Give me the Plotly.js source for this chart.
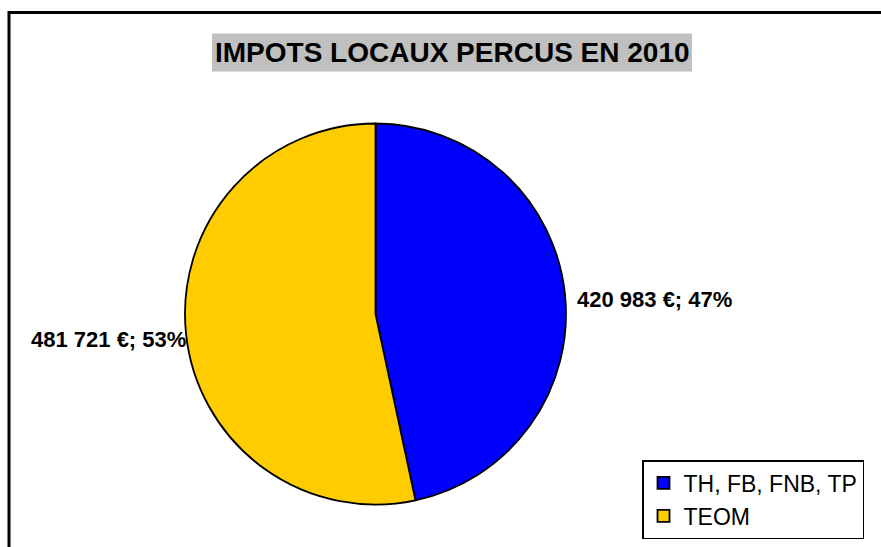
<!DOCTYPE html>
<html>
<head>
<meta charset="utf-8">
<script src="https://cdn.plot.ly/plotly-3.0.1.min.js"></script>
<style>
  html, body { margin: 0; padding: 0; background: #ffffff; }
  #chart { width: 881px; height: 547px; }
</style>
</head>
<body>
<div id="chart"></div>
<script>
// Impôts locaux perçus en 2010
const categories = ['TH, FB, FNB, TP', 'TEOM'];
const amounts = [420983, 481721];
const sliceColors = ['#0000FF', '#FFCC00'];
const chartTitle = 'IMPOTS LOCAUX PERCUS EN 2010';

const W = 881, H = 547;
const px = x => x / W;
const py = y => 1 - y / H;

// 420983 -> "420 983 €"
function euros(v) {
    return String(v).replace(/\B(?=(\d{3})+(?!\d))/g, ' ') + ' €';
}
const total = amounts.reduce((a, b) => a + b, 0);
const labelTexts = amounts.map(v => euros(v) + '; ' + Math.round(v / total * 100) + '%');

const trace = {
    type: 'pie',
    labels: categories,
    values: amounts,
    sort: false,
    direction: 'clockwise',
    rotation: 0,
    textinfo: 'none',
    hoverinfo: 'label+value+percent',
    marker: { colors: sliceColors, line: { color: '#000000', width: 1.8 } },
    domain: { x: [px(185), px(566)], y: [py(504.5), py(123.5)] },
};

const labelFont = { family: 'Liberation Sans, Arial, sans-serif', size: 22, color: '#000000', weight: 'bold' };

const layout = {
    width: W,
    height: H,
    margin: { l: 0, r: 0, t: 0, b: 0 },
    paper_bgcolor: '#ffffff',
    showlegend: true,
    legend: {
        x: px(642), y: py(460), xanchor: 'left', yanchor: 'top',
        bgcolor: '#ffffff',
        bordercolor: '#000000',
        borderwidth: 1.5,
        font: { family: 'Liberation Sans, Arial, sans-serif', size: 23, color: '#000000' },
        traceorder: 'normal',
    },
    shapes: [
        // chart frame (runs off the bottom/right of the picture)
        {
            type: 'rect', xref: 'paper', yref: 'paper',
            x0: px(9), x1: px(895), y0: py(560), y1: py(12.5),
            line: { color: '#000000', width: 3 }, fillcolor: 'rgba(0,0,0,0)',
        },
        // title background
        {
            type: 'rect', xref: 'paper', yref: 'paper',
            x0: px(212), x1: px(692), y0: py(71.5), y1: py(33.5),
            line: { width: 0 }, fillcolor: '#C0C0C0', layer: 'below',
        },
    ],
    annotations: [
        {
            text: chartTitle, xref: 'paper', yref: 'paper',
            x: px(452), y: py(52.5), xanchor: 'center', yanchor: 'middle',
            showarrow: false,
            font: { family: 'Liberation Sans, Arial, sans-serif', size: 28, color: '#000000', weight: 'bold' },
        },
        {
            text: labelTexts[0], xref: 'paper', yref: 'paper',
            x: px(575), y: py(299), xanchor: 'left', yanchor: 'middle',
            showarrow: false, font: labelFont,
        },
        {
            text: labelTexts[1], xref: 'paper', yref: 'paper',
            x: px(188), y: py(339), xanchor: 'right', yanchor: 'middle',
            showarrow: false, font: labelFont,
        },
    ],
};

Plotly.newPlot('chart', [trace], layout, { displayModeBar: false, staticPlot: true });
</script>
</body>
</html>
